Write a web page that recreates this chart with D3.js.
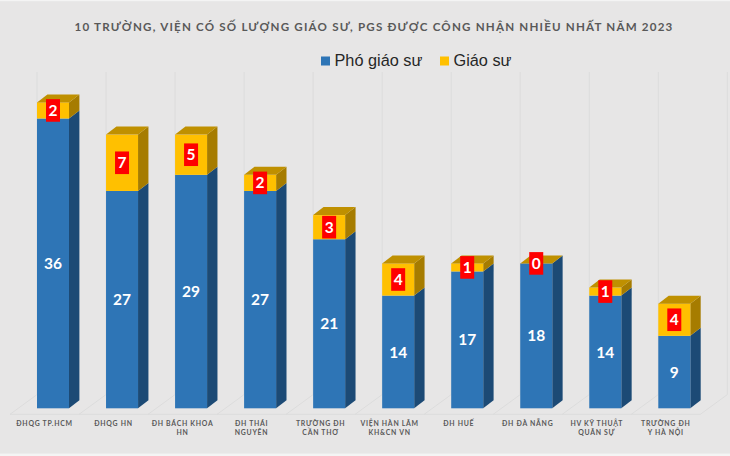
<!DOCTYPE html>
<html><head><meta charset="utf-8">
<script src="https://cdn.jsdelivr.net/npm/d3@7/dist/d3.min.js"></script>
<style>
html,body{margin:0;padding:0;background:#e7e6e6;overflow:hidden}
svg{display:block}
</style></head><body><svg id="c" width="730" height="456"></svg>
<script>
const categories = [["ĐHQG TP.HCM"],["ĐHQG HN"],["ĐH BÁCH KHOA","HN"],["ĐH THÁI","NGUYÊN"],["TRƯỜNG ĐH","CẦN THƠ"],["VIỆN HÀN LÂM","KH&CN VN"],["ĐH HUẾ"],["ĐH ĐÀ NẴNG"],["HV KỸ THUẬT","QUÂN SỰ"],["TRƯỜNG ĐH","Y HÀ NỘI"]];
const phoGiaoSu = [36,27,29,27,21,14,17,18,14,9];
const giaoSu = [2,7,5,2,3,4,1,0,1,4];
const seriesNames = ["Phó giáo sư","Giáo sư"];
const titleText = "10 TRƯỜNG, VIỆN CÓ SỐ LƯỢNG GIÁO SƯ, PGS ĐƯỢC CÔNG NHẬN NHIỀU NHẤT NĂM 2023";

const svg = d3.select("#c");
const depthX = 10.4, depthY = 8;
const faces = {
  front:["#2e75b6","#ffc000"],
  side:["#1c4a75","#a67c00"],
  top:["#24598c","#bf9000"]
};
const ids = categories.map((_,i)=>i);
const x = d3.scaleBand().domain(ids).range([37,690.3]).paddingInner(1-32/69.03).paddingOuter(0);
const floorX = d3.scaleBand().domain(ids).range([10,700.3]);
const y = d3.scaleLinear().domain([0,40]).range([408.3,86.3]);
const stack = d3.stack().keys([0,1]).value((d,k)=>(k===0?phoGiaoSu:giaoSu)[d]);
const layers = stack(ids);

// frame
svg.append("rect").attr("width",730).attr("height",1.2).attr("fill","#f4f4f4");
svg.append("rect").attr("y",453.6).attr("width",730).attr("height",2.4).attr("fill","#f4f4f4");

// walls and floor
const grid = svg.append("g").attr("stroke","#d9d9d9").attr("stroke-width",0.8).attr("fill","none");
const backY = 394.6, frontY = 414.3, wallTop = 72;
const wallXs = ids.map(i=>x(i)).concat([x(9)+x.step()]);
wallXs.forEach(wx=>{
  grid.append("line").attr("x1",wx).attr("x2",wx).attr("y1",wallTop).attr("y2",backY);
  grid.append("line").attr("x1",wx).attr("x2",wx-27).attr("y1",backY).attr("y2",frontY);
});
grid.append("line").attr("x1",10).attr("x2",700.3).attr("y1",frontY).attr("y2",frontY);

// bars
const poly = pts => pts.map(p=>p.join(",")).join(" ");
const bars = svg.append("g");
ids.forEach(i=>{
  const g = bars.append("g");
  const l = x(i), r = l + x.bandwidth();
  layers.forEach((layer,k)=>{
    const [v0,v1] = layer[i];
    const y0 = y(v0), y1 = y(v1);
    if (v1 > v0) {
      g.append("polygon").attr("fill",faces.side[k]).attr("points",poly([[r,y0],[r+depthX,y0-depthY],[r+depthX,y1-depthY],[r,y1]]));
      g.append("rect").attr("x",l).attr("y",y1).attr("width",r-l).attr("height",y0-y1).attr("fill",faces.front[k]);
    }
  });
  const t = y(phoGiaoSu[i]+giaoSu[i]);
  g.append("polygon").attr("fill",faces.top[1]).attr("points",poly([[l,t],[l+depthX,t-depthY],[r+depthX,t-depthY],[r,t]]));
});

// data labels
const labels = svg.append("g").attr("font-family","Lato").attr("font-weight",700).attr("text-anchor","middle").attr("fill","#fff");
ids.forEach(i=>{
  const cx = x(i)+x.bandwidth()/2;
  labels.append("text").attr("x",cx).attr("y",(y(0)+y(phoGiaoSu[i]))/2).attr("dy","0.36em").attr("font-size",15.5).text(phoGiaoSu[i]);
  const cy = (y(phoGiaoSu[i])+y(phoGiaoSu[i]+giaoSu[i]))/2;
  labels.append("rect").attr("x",cx-7).attr("y",cy-11.3).attr("width",14).attr("height",22.6).attr("fill","#fe0000");
  labels.append("text").attr("x",cx).attr("y",cy).attr("dy","0.36em").attr("font-size",15.5).text(giaoSu[i]);
});

// category labels
const cat = svg.append("g").attr("font-family","Lato").attr("font-weight",700).attr("font-size",6.9).attr("letter-spacing",0.72).attr("text-anchor","middle").attr("fill","#595959");
ids.forEach(i=>{
  const cx = floorX(i)+floorX.bandwidth()/2;
  categories[i].forEach((line,j)=>{
    cat.append("text").attr("x",cx).attr("y",426+j*9).text(line);
  });
});

// title
svg.append("text").attr("x",374).attr("y",31).attr("text-anchor","middle").attr("font-family","Lato").attr("font-weight",700).attr("font-size",11.6).attr("letter-spacing",1.19).attr("fill","#595959").text(titleText);

// legend
const legendX = [321,440];
const legendColors = faces.front;
seriesNames.forEach((n,k)=>{
  svg.append("rect").attr("x",legendX[k]).attr("y",56.5).attr("width",9).attr("height",9).attr("fill",legendColors[k]);
  svg.append("text").attr("x",legendX[k]+13.5).attr("y",66).attr("font-family","'Liberation Sans'").attr("font-size",16.3).attr("fill","#262626").text(n);
});
</script></body></html>
